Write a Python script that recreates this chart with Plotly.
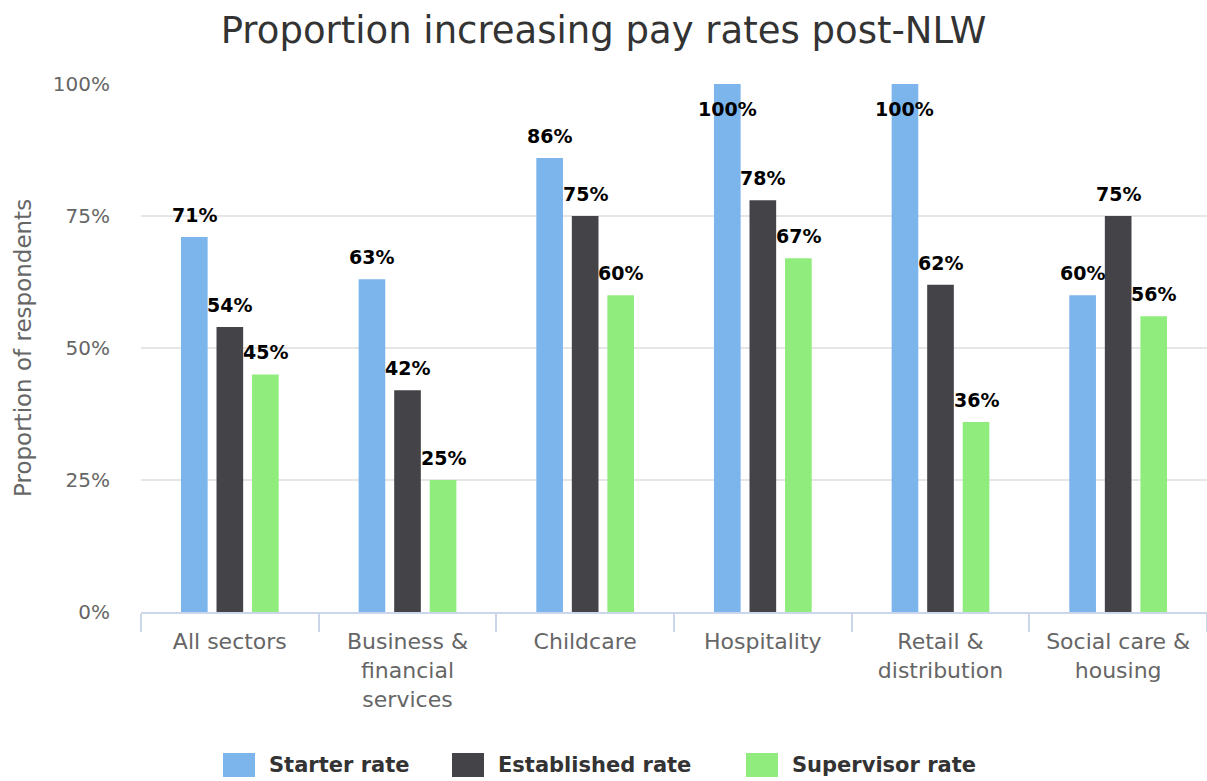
import plotly.graph_objects as go

# Sector categories and the share of respondents raising each pay rate (%)
categories = ["All sectors", "Business &<br>financial<br>services", "Childcare",
              "Hospitality", "Retail &<br>distribution", "Social care &<br>housing"]
starter_rate = [71, 63, 86, 100, 100, 60]
established_rate = [54, 42, 75, 78, 62, 75]
supervisor_rate = [45, 25, 60, 67, 36, 56]

series_names = ["Starter rate", "Established rate", "Supervisor rate"]
series_values = [starter_rate, established_rate, supervisor_rate]
series_colors = ["#7cb5ec", "#434348", "#90ed7d"]

y_ticks = [0, 25, 50, 75, 100]
y_tick_labels = ["0%", "25%", "50%", "75%", "100%"]

FONT = "DejaVu Sans"
BAR_GAP = 0.4
GROUP_GAP = 0.25

W, H = 1207, 781
M_L, M_R, M_T, M_B = 141, 0, 84, 169
PLOT_W = W - M_L - M_R
PLOT_H = H - M_T - M_B


def px_to_paper(px, py):
    """Convert page pixel coordinates to paper coordinates of the plot area."""
    return (px - M_L) / PLOT_W, (H - M_B - py) / PLOT_H


positions = list(range(len(categories)))

fig = go.Figure()
for name, vals, color in zip(series_names, series_values, series_colors):
    fig.add_trace(go.Bar(
        name=name, x=positions, y=vals, marker=dict(color=color, line=dict(width=0)),
        hoverinfo="skip", showlegend=False,
    ))

# Value labels: above each bar, or tucked inside the top when the bar fills the axis
n = len(series_names)
slot = (1 - BAR_GAP) / n
annotations = []
for s, vals in enumerate(series_values):
    for i, v in enumerate(vals):
        xc = i + (s - (n - 1) / 2) * slot
        inside = v >= 100
        annotations.append(dict(
            x=xc, y=v, xref="x", yref="y", text=f"{v}%", showarrow=False,
            xanchor="center", yanchor="top" if inside else "bottom",
            yshift=-12 if inside else 9,
            font=dict(family=FONT, size=19, color="#000000", weight="bold"),
        ))

# Rotated y-axis title
annotations.append(dict(
    x=0, y=0.5, xref="paper", yref="paper", xshift=-118, text="Proportion of respondents",
    textangle=-90, showarrow=False, xanchor="center", yanchor="middle",
    font=dict(family=FONT, size=23, color="#666666"),
))

# Legend row below the chart: coloured swatch followed by the series name
shapes = []
legend_left = [223, 452, 746]
SW_W, SW_H, LEG_Y = 32, 24, 765
for name, color, left in zip(series_names, series_colors, legend_left):
    x0, y0 = px_to_paper(left, LEG_Y + SW_H / 2)
    x1, y1 = px_to_paper(left + SW_W, LEG_Y - SW_H / 2)
    shapes.append(dict(type="rect", xref="paper", yref="paper", x0=x0, x1=x1, y0=y0, y1=y1,
                       fillcolor=color, line=dict(width=0), layer="above"))
    tx, ty = px_to_paper(left + SW_W + 12, LEG_Y)
    annotations.append(dict(
        x=tx, y=ty, xref="paper", yref="paper", text=name, showarrow=False,
        xanchor="left", yanchor="middle",
        font=dict(family=FONT, size=21, color="#333333", weight="bold"),
    ))

fig.update_layout(
    width=W, height=H,
    margin=dict(l=M_L, r=M_R, t=M_T, b=M_B),
    paper_bgcolor="white", plot_bgcolor="white",
    barmode="group", bargap=BAR_GAP, bargroupgap=GROUP_GAP,
    title=dict(text="Proportion increasing pay rates post-NLW", x=0.5, xanchor="center",
               xref="container", y=0.962, yanchor="middle", yref="container",
               font=dict(family=FONT, size=37, color="#333333")),
    annotations=annotations,
    shapes=shapes,
    showlegend=False,
)

fig.update_xaxes(
    range=[-0.5, len(categories) - 0.5],
    tickmode="array", tickvals=positions, ticktext=categories,
    ticks="", showgrid=False, zeroline=False, ticklabelstandoff=9,
    showline=True, linecolor="#ccd6eb", linewidth=2,
    tickfont=dict(family=FONT, size=22, color="#666666"),
    minor=dict(tickmode="array", tickvals=[p - 0.5 for p in positions] + [len(categories) - 0.5],
               ticks="outside", ticklen=18, tickwidth=2, tickcolor="#ccd6eb", showgrid=False),
    fixedrange=True,
)
fig.update_yaxes(
    range=[0, 100], tickmode="array", tickvals=y_ticks, ticktext=y_tick_labels,
    showgrid=True, gridcolor="#e6e6e6", gridwidth=2, zeroline=False, showline=False,
    ticks="", ticklabelstandoff=30,
    tickfont=dict(family=FONT, size=20, color="#666666"),
    fixedrange=True,
)

fig.write_html("out.html")
